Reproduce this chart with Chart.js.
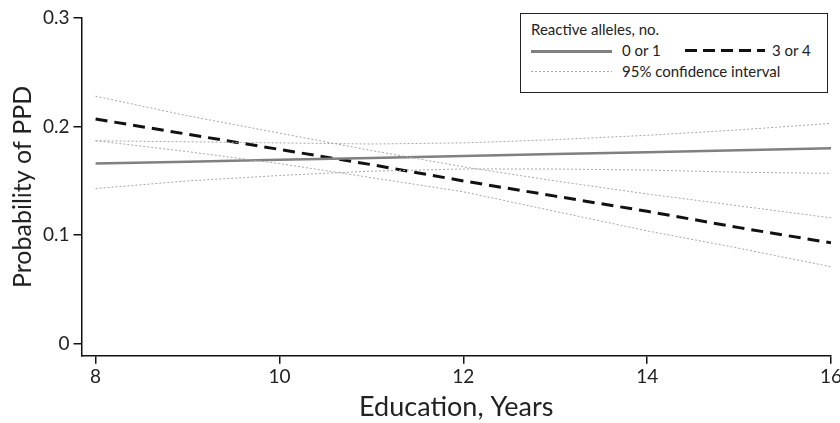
<!DOCTYPE html>
<html>
<head>
<meta charset="utf-8">
<script src="https://cdn.jsdelivr.net/npm/chart.js@4"></script>
<style>
  html, body { margin: 0; padding: 0; background: #fff; }
  #wrap { position: relative; width: 840px; height: 423px; }
  #legend {
    position: absolute; left: 520px; top: 13px; width: 306px; height: 78px;
    border: 1.5px solid #222; background: #fff;
    font-family: Lato, "Open Sans", sans-serif; font-size: 15px; color: #222;
  }
  #legend .t { position: absolute; left: 10px; top: 6px; }
  #legend .s { position: absolute; }
  #legend .l { position: absolute; }
</style>
</head>
<body>
<div id="wrap">
  <canvas id="c" width="840" height="423"></canvas>
  <div id="legend">
    <span class="t">Reactive alleles, no.</span>
    <div class="s" style="left:10px; top:36px; width:81px; height:2.5px; background:#808080;"></div>
    <span class="l" style="left:101px; top:27px;">0 or 1</span>
    <div class="s" style="left:164px; top:35px; width:80px; height:3px; background:repeating-linear-gradient(90deg,#111 0 12px,transparent 12px 18px);"></div>
    <span class="l" style="left:251px; top:27px;">3 or 4</span>
    <div class="s" style="left:10px; top:57px; width:81px; height:1px; background:repeating-linear-gradient(90deg,#aaa 0 2px,transparent 2px 4px);"></div>
    <span class="l" style="left:101px; top:48px;">95% confidence interval</span>
  </div>
</div>
<script>
// Education, years (x)
const years = [8, 9, 10, 11, 12, 13, 14, 15, 16];
// predicted probability of PPD, 0 or 1 reactive alleles
const low = [0.166, 0.1677, 0.1695, 0.1712, 0.173, 0.1747, 0.1765, 0.1782, 0.180];
const lowUpper = [0.187, 0.186, 0.185, 0.184, 0.185, 0.188, 0.192, 0.197, 0.203];
const lowLower = [0.143, 0.150, 0.155, 0.159, 0.161, 0.161, 0.160, 0.158, 0.157];
// 3 or 4 reactive alleles
const high = [0.207, 0.193, 0.179, 0.165, 0.150, 0.136, 0.122, 0.107, 0.093];
const highUpper = [0.228, 0.210, 0.194, 0.178, 0.163, 0.150, 0.138, 0.127, 0.116];
const highLower = [0.187, 0.177, 0.166, 0.153, 0.140, 0.122, 0.104, 0.088, 0.071];

const xTicks = [8, 10, 12, 14, 16];
const yTicks = [0, 0.1, 0.2, 0.3];

const FONT = 'Lato, "Open Sans", sans-serif';
const pts = arr => years.map((x, i) => ({ x, y: arr[i] }));

const ciStyle = { borderColor: '#a8a8a8', borderWidth: 1, borderDash: [2, 2], pointRadius: 0, fill: false };

new Chart(document.getElementById('c'), {
  type: 'line',
  data: {
    datasets: [
      { label: '95% CI', data: pts(lowUpper), ...ciStyle },
      { label: '95% CI', data: pts(lowLower), ...ciStyle },
      { label: '95% CI', data: pts(highUpper), ...ciStyle },
      { label: '95% CI', data: pts(highLower), ...ciStyle },
      { label: '0 or 1', data: pts(low), borderColor: '#808080', borderWidth: 2.5, pointRadius: 0 },
      { label: '3 or 4', data: pts(high), borderColor: '#111', borderWidth: 3, borderDash: [12, 7], pointRadius: 0 }
    ]
  },
  options: {
    responsive: false,
    animation: false,
    layout: { padding: { top: 18, right: 0, left: 8, bottom: 0 } },
    plugins: { legend: { display: false }, tooltip: { enabled: false } },
    scales: {
      x: {
        type: 'linear', min: 7.847, max: 16,
        afterBuildTicks: s => { s.ticks = xTicks.map(v => ({ value: v })); },
        afterFit: s => { s.paddingRight = 9; },
        grid: { drawOnChartArea: false, drawTicks: true, tickLength: 8, color: '#111', lineWidth: 1.5 },
        border: { display: true, color: '#111', width: 1.5 },
        ticks: { color: '#222', font: { family: FONT, size: 19 }, padding: 2 },
        title: { display: true, text: 'Education, Years', color: '#222', font: { family: FONT, size: 27 }, padding: { top: 0, bottom: 0 } }
      },
      y: {
        type: 'linear', min: -0.011, max: 0.3,
        afterBuildTicks: s => { s.ticks = yTicks.map(v => ({ value: v })); },
        grid: { drawOnChartArea: false, drawTicks: true, tickLength: 8, color: '#111', lineWidth: 1.5 },
        border: { display: true, color: '#111', width: 1.5 },
        ticks: { color: '#222', font: { family: FONT, size: 19 }, padding: 4, callback: v => v === 0 ? '0' : v.toFixed(1) },
        title: { display: true, text: 'Probability of PPD', color: '#222', font: { family: FONT, size: 25 }, padding: { top: 0, bottom: 1 } }
      }
    }
  }
});
</script>
</body>
</html>
